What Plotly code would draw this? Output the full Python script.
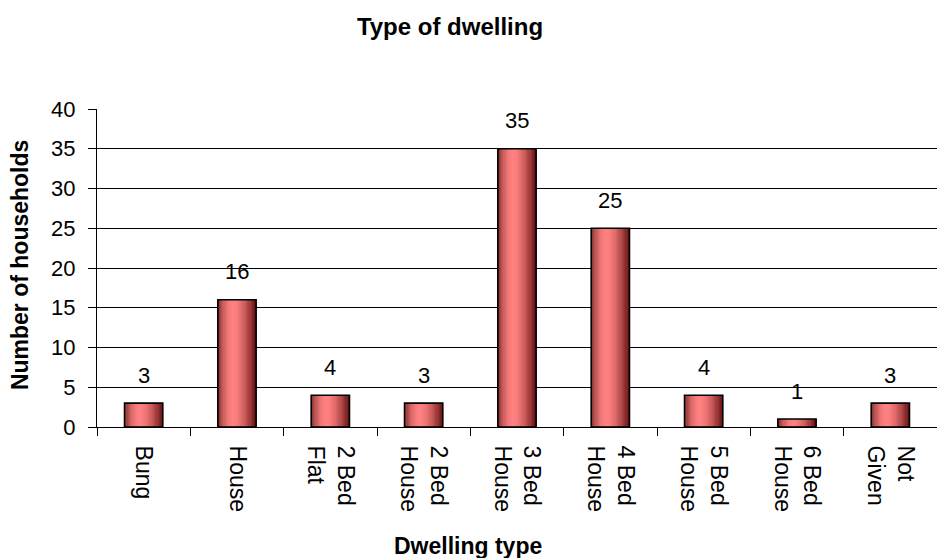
import plotly.graph_objects as go

categories = ["Bung", "House", "2 Bed Flat", "2 Bed House", "3 Bed House",
              "4 Bed House", "5 Bed House", "6 Bed House", "Not Given"]
values = [3, 16, 4, 3, 35, 25, 4, 1, 3]
tick_labels = ["Bung", "House", "2 Bed<br>Flat", "2 Bed<br>House", "3 Bed<br>House",
               "4 Bed<br>House", "5 Bed<br>House", "6 Bed<br>House", "Not<br>Given"]
y_ticks = [0, 5, 10, 15, 20, 25, 30, 35, 40]

FONT = "Liberation Sans, Arial, sans-serif"
W = 0.41
N = 32
LEFT = (118, 40, 40)
MID = (255, 128, 128)
RIGHT = (100, 18, 18)
PEAK = 0.42


def grad(t):
    if t <= PEAK:
        s = t / PEAK
        s = 1 - (1 - s) ** 2
        a, b = LEFT, MID
    else:
        s = (t - PEAK) / (1 - PEAK)
        s = s ** 1.6
        a, b = MID, RIGHT
    return "rgb(%d,%d,%d)" % tuple(round(a[k] + (b[k] - a[k]) * s) for k in range(3))


fig = go.Figure()
for i in range(N):
    t = (i + 0.5) / N
    w = W / N * (1.6 if i < N - 1 else 1.0)
    fig.add_trace(go.Bar(
        x=categories, y=values, width=w, offset=-W / 2 + i * W / N,
        marker=dict(color=grad(t), line=dict(width=0)),
        hoverinfo="skip", showlegend=False))

fig.add_trace(go.Bar(
    x=categories, y=values, width=W, offset=-W / 2,
    marker=dict(color="rgba(0,0,0,0)", line=dict(color="black", width=1.6)),
    showlegend=False))

for c, v in zip(categories, values):
    fig.add_annotation(x=c, y=v, text=str(v), showarrow=False, yshift=28,
                       yanchor="middle", font=dict(family=FONT, size=22, color="black"))

fig.add_annotation(xref="paper", yref="paper", x=0.4417, y=-0.374, text="<b>Dwelling type</b>",
                   showarrow=False, xanchor="center", yanchor="middle",
                   font=dict(family=FONT, size=23, color="black"))
fig.add_annotation(xref="paper", yref="paper", x=-0.0917, y=0.509, text="<b>Number of households</b>",
                   showarrow=False, xanchor="center", yanchor="middle", textangle=-90,
                   font=dict(family=FONT, size=23, color="black"))

fig.update_layout(
    width=937, height=558,
    margin=dict(l=97, r=0, t=109, b=131, pad=0),
    paper_bgcolor="white", plot_bgcolor="white",
    barmode="overlay",
    font=dict(family=FONT, size=22, color="black"),
    title=dict(text="<b>Type of dwelling</b>", xref="container", yref="container",
               x=450 / 937, y=1 - 27 / 558, xanchor="center", yanchor="middle",
               font=dict(family=FONT, size=24, color="black")),
    xaxis=dict(tickmode="array", tickvals=categories, ticktext=tick_labels,
               tickangle=90, ticks="outside", tickson="boundaries", ticklen=8,
               tickcolor="black", showline=True, linecolor="black", linewidth=1,
               showgrid=False, tickfont=dict(family=FONT, size=23, color="black"),
               ticklabelstandoff=13),
    yaxis=dict(range=[0, 40], tickvals=y_ticks, ticks="outside", ticklen=8,
               tickcolor="black", showline=True, linecolor="black", linewidth=1,
               showgrid=True, gridcolor="black", gridwidth=1, zeroline=False,
               tickfont=dict(family=FONT, size=22, color="black"),
               ticklabelstandoff=8),
)

fig.write_html("out.html")
